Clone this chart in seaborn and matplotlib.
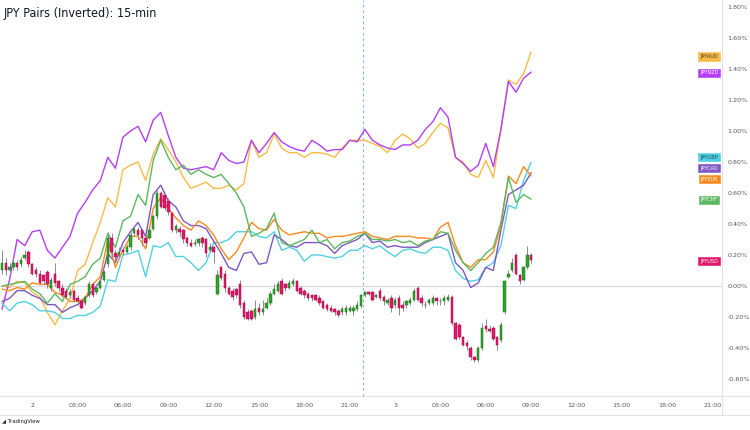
import numpy as np
import pandas as pd
import matplotlib
matplotlib.use("Agg")
import matplotlib.pyplot as plt
from matplotlib.lines import Line2D
import seaborn as sns

# --- datos (% de variacion) ---
pairs = ["JPYAUD", "JPYNZD", "JPYGBP", "JPYCAD", "JPYEUR", "JPYCHF"]
line_bars = np.arange(0, 141, 2)   # una lectura cada 2 velas de 15 min

jpyaud = [0.00, -0.01, 0.03, 0.02, -0.04, -0.07, -0.17, -0.25, -0.16, -0.08,
          0.10, 0.14, 0.28, 0.41, 0.57, 0.51, 0.75, 0.78, 0.80, 0.68,
          0.85, 0.95, 0.88, 0.80, 0.70, 0.63, 0.65, 0.67, 0.63, 0.63,
          0.65, 0.62, 0.66, 0.94, 0.83, 0.86, 0.98, 0.89, 0.86, 0.86,
          0.83, 0.86, 0.86, 0.85, 0.83, 0.89, 0.94, 0.94, 0.94, 0.92,
          0.90, 0.86, 0.94, 0.98, 0.95, 0.89, 0.92, 0.99, 1.05, 1.02,
          0.83, 0.80, 0.72, 0.70, 0.81, 0.70, 1.01, 1.33, 1.30, 1.37, 1.51]
jpynzd = [-0.15, 0.04, 0.30, 0.26, 0.35, 0.36, 0.23, 0.18, 0.25, 0.32,
          0.47, 0.54, 0.62, 0.68, 0.83, 0.76, 0.96, 1.00, 1.03, 0.93,
          1.07, 1.12, 0.97, 0.83, 0.76, 0.75, 0.76, 0.77, 0.75, 0.86,
          0.81, 0.79, 0.80, 0.94, 0.86, 0.92, 0.99, 0.93, 0.90, 0.88,
          0.87, 0.94, 0.91, 0.87, 0.88, 0.88, 0.94, 0.93, 1.01, 0.94,
          0.91, 0.89, 0.88, 0.91, 0.91, 0.94, 1.01, 1.06, 1.15, 1.09,
          0.83, 0.79, 0.74, 0.78, 0.92, 0.77, 1.01, 1.32, 1.25, 1.34, 1.38]
jpygbp = [-0.11, -0.16, -0.11, -0.10, -0.12, -0.16, -0.16, -0.17, -0.21, -0.21,
          -0.19, -0.19, -0.17, -0.13, 0.04, 0.03, 0.20, 0.21, 0.23, 0.06,
          0.26, 0.25, 0.28, 0.19, 0.19, 0.15, 0.10, 0.15, 0.28, 0.28,
          0.30, 0.35, 0.35, 0.35, 0.32, 0.31, 0.35, 0.23, 0.25, 0.23,
          0.16, 0.20, 0.20, 0.19, 0.18, 0.19, 0.23, 0.23, 0.26, 0.24,
          0.26, 0.22, 0.19, 0.23, 0.24, 0.22, 0.21, 0.25, 0.25, 0.23,
          0.10, 0.05, 0.03, 0.04, 0.12, 0.15, 0.26, 0.52, 0.50, 0.68, 0.80]
jpycad = [-0.10, -0.08, -0.03, -0.03, -0.06, -0.08, -0.12, -0.12, -0.17, -0.14,
          -0.12, -0.08, -0.03, 0.03, 0.21, 0.15, 0.28, 0.35, 0.41, 0.32,
          0.59, 0.65, 0.55, 0.51, 0.42, 0.39, 0.39, 0.37, 0.29, 0.21,
          0.12, 0.10, 0.21, 0.22, 0.14, 0.15, 0.33, 0.30, 0.26, 0.25,
          0.28, 0.28, 0.28, 0.26, 0.21, 0.26, 0.28, 0.30, 0.34, 0.28,
          0.29, 0.25, 0.26, 0.25, 0.25, 0.25, 0.28, 0.30, 0.32, 0.34,
          0.15, 0.10, -0.01, 0.02, 0.12, 0.10, 0.36, 0.59, 0.62, 0.65, 0.73]
jpyeur = [-0.02, -0.03, -0.01, -0.02, 0.02, 0.01, 0.01, -0.04, -0.06, -0.10,
          -0.10, -0.08, 0.01, 0.06, 0.30, 0.12, 0.23, 0.32, 0.32, 0.24,
          0.50, 0.57, 0.50, 0.44, 0.39, 0.36, 0.42, 0.39, 0.33, 0.24,
          0.17, 0.22, 0.31, 0.41, 0.37, 0.36, 0.43, 0.36, 0.33, 0.34,
          0.35, 0.34, 0.34, 0.31, 0.32, 0.32, 0.33, 0.34, 0.35, 0.32,
          0.31, 0.30, 0.32, 0.32, 0.32, 0.31, 0.31, 0.30, 0.38, 0.41,
          0.26, 0.15, 0.12, 0.17, 0.17, 0.22, 0.39, 0.71, 0.66, 0.77, 0.71]
jpychf = [0.00, 0.01, 0.02, 0.03, -0.02, -0.05, -0.11, -0.05, -0.10, 0.01,
          0.03, 0.06, 0.14, 0.18, 0.34, 0.25, 0.42, 0.45, 0.59, 0.52,
          0.81, 0.94, 0.83, 0.75, 0.78, 0.72, 0.75, 0.72, 0.70, 0.72,
          0.66, 0.60, 0.51, 0.32, 0.34, 0.37, 0.47, 0.28, 0.26, 0.28,
          0.30, 0.36, 0.28, 0.30, 0.24, 0.28, 0.29, 0.32, 0.34, 0.30,
          0.30, 0.29, 0.30, 0.28, 0.29, 0.26, 0.29, 0.30, 0.35, 0.34,
          0.23, 0.15, 0.10, 0.15, 0.21, 0.25, 0.41, 0.70, 0.54, 0.59, 0.56]

# JPYUSD en velas de 15 min
usd_open = [0.10, 0.15, 0.10, 0.12, 0.15, 0.14, 0.18, 0.22, 0.14, 0.10,
            0.08, 0.07, 0.09, -0.01, 0.08, 0.03, -0.01, -0.03, -0.06, -0.03,
            -0.08, -0.10, -0.11, -0.06, 0.01, -0.04, -0.01, 0.04, 0.14, 0.31,
            0.21, 0.20, 0.23, 0.22, 0.25, 0.34, 0.36, 0.36, 0.31, 0.31,
            0.37, 0.45, 0.60, 0.59, 0.55, 0.47, 0.36, 0.37, 0.36, 0.31,
            0.28, 0.27, 0.28, 0.31, 0.30, 0.23, 0.25, -0.05, 0.12, 0.08,
            -0.01, -0.03, -0.02, 0.01, -0.11, -0.17, -0.16, -0.20, -0.14, -0.17,
            -0.14, -0.11, -0.05, -0.03, 0.03, 0.01, -0.01, 0.01, 0.03, -0.01,
            -0.03, -0.05, -0.06, -0.06, -0.08, -0.10, -0.12, -0.14, -0.15, -0.16,
            -0.17, -0.17, -0.16, -0.16, -0.15, -0.13, -0.06, -0.04, -0.04, -0.07,
            -0.03, -0.07, -0.11, -0.08, -0.12, -0.08, -0.12, -0.12, -0.11, -0.09,
            -0.01, -0.08, -0.12, -0.11, -0.11, -0.08, -0.10, -0.10, -0.09, -0.07,
            -0.24, -0.25, -0.33, -0.37, -0.40, -0.46, -0.48, -0.40, -0.26, -0.28,
            -0.27, -0.33, -0.35, -0.17, 0.06, 0.10, 0.20, 0.07, 0.04, 0.12,
            0.20]
usd_close = [0.15, 0.10, 0.12, 0.15, 0.12, 0.17, 0.20, 0.14, 0.08, 0.08,
             0.02, 0.03, 0.01, 0.04, 0.02, -0.01, -0.06, -0.07, -0.04, -0.09,
             -0.10, -0.14, -0.07, 0.01, -0.06, -0.01, 0.03, 0.09, 0.31, 0.22,
             0.19, 0.22, 0.22, 0.25, 0.33, 0.37, 0.33, 0.31, 0.28, 0.36,
             0.45, 0.60, 0.51, 0.50, 0.48, 0.36, 0.39, 0.35, 0.30, 0.28,
             0.26, 0.28, 0.30, 0.28, 0.21, 0.25, 0.22, 0.07, 0.05, -0.01,
             -0.05, -0.07, -0.06, -0.12, -0.20, -0.21, -0.21, -0.15, -0.17, -0.15,
             -0.11, -0.05, -0.02, 0.01, -0.05, -0.01, 0.02, 0.03, -0.03, -0.05,
             -0.06, -0.08, -0.08, -0.09, -0.11, -0.14, -0.15, -0.16, -0.17, -0.19,
             -0.15, -0.14, -0.14, -0.14, -0.12, -0.06, -0.04, -0.05, -0.09, -0.06,
             -0.08, -0.10, -0.09, -0.14, -0.09, -0.14, -0.14, -0.10, -0.09, -0.03,
             -0.09, -0.11, -0.12, -0.09, -0.08, -0.10, -0.10, -0.08, -0.07, -0.24,
             -0.34, -0.33, -0.38, -0.39, -0.46, -0.48, -0.40, -0.27, -0.28, -0.29,
             -0.34, -0.38, -0.25, 0.03, 0.08, 0.15, 0.08, 0.03, 0.12, 0.20,
             0.17]
usd_high = [0.23, 0.18, 0.15, 0.18, 0.17, 0.19, 0.23, 0.23, 0.15, 0.12,
            0.10, 0.08, 0.10, 0.06, 0.15, 0.04, 0.01, -0.01, -0.02, -0.02,
            -0.06, -0.09, -0.06, 0.03, 0.02, 0.01, 0.05, 0.10, 0.35, 0.34,
            0.23, 0.25, 0.25, 0.27, 0.35, 0.39, 0.38, 0.37, 0.33, 0.38,
            0.46, 0.62, 0.61, 0.60, 0.57, 0.48, 0.40, 0.39, 0.37, 0.32,
            0.30, 0.30, 0.31, 0.32, 0.31, 0.28, 0.26, 0.10, 0.13, 0.10,
            0.00, -0.01, -0.01, 0.04, -0.09, -0.15, -0.15, -0.09, -0.11, -0.09,
            -0.08, -0.03, 0.01, 0.03, 0.05, 0.02, 0.04, 0.05, 0.04, 0.00,
            -0.02, -0.04, -0.05, -0.05, -0.06, -0.09, -0.11, -0.12, -0.14, -0.15,
            -0.13, -0.12, -0.12, -0.12, -0.10, -0.05, -0.03, -0.03, -0.03, -0.05,
            -0.01, -0.06, -0.08, -0.06, -0.07, -0.06, -0.10, -0.09, -0.07, -0.01,
            0.00, -0.06, -0.10, -0.08, -0.06, -0.07, -0.08, -0.06, -0.05, -0.06,
            -0.23, -0.24, -0.32, -0.35, -0.39, -0.45, -0.39, -0.24, -0.21, -0.25,
            -0.26, -0.32, -0.23, 0.04, 0.10, 0.18, 0.21, 0.08, 0.13, 0.26,
            0.21]
usd_low = [0.08, 0.07, 0.08, 0.10, 0.10, 0.12, 0.17, 0.12, 0.07, 0.06,
           0.01, 0.01, -0.01, -0.03, 0.00, -0.03, -0.07, -0.08, -0.08, -0.10,
           -0.12, -0.15, -0.12, -0.07, -0.07, -0.05, -0.02, 0.03, 0.12, 0.19,
           0.17, 0.18, 0.20, 0.21, 0.23, 0.32, 0.30, 0.26, 0.25, 0.30,
           0.36, 0.43, 0.50, 0.49, 0.46, 0.35, 0.34, 0.32, 0.28, 0.26,
           0.25, 0.26, 0.26, 0.25, 0.19, 0.22, 0.15, -0.06, 0.04, -0.04,
           -0.06, -0.09, -0.08, -0.14, -0.21, -0.22, -0.22, -0.21, -0.19, -0.19,
           -0.15, -0.12, -0.06, -0.04, -0.06, -0.03, -0.02, 0.00, -0.04, -0.06,
           -0.08, -0.09, -0.10, -0.10, -0.12, -0.15, -0.16, -0.17, -0.19, -0.20,
           -0.19, -0.19, -0.17, -0.19, -0.16, -0.14, -0.07, -0.06, -0.10, -0.08,
           -0.09, -0.12, -0.12, -0.17, -0.14, -0.19, -0.16, -0.14, -0.12, -0.10,
           -0.10, -0.13, -0.14, -0.12, -0.12, -0.12, -0.12, -0.12, -0.10, -0.25,
           -0.35, -0.34, -0.39, -0.41, -0.48, -0.49, -0.49, -0.41, -0.30, -0.30,
           -0.35, -0.41, -0.36, -0.18, 0.05, 0.09, 0.07, 0.01, 0.03, 0.11,
           0.15]

# etiquetas del eje de tiempo (posicion en velas)
time_ticks = [8, 20, 32, 44, 56, 68, 80, 92, 104, 116, 128, 140, 152, 164, 176, 188]
time_labels = ["2", "03:00", "06:00", "09:00", "12:00", "15:00", "18:00", "21:00",
               "3", "03:00", "06:00", "09:00", "12:00", "15:00", "18:00", "21:00"]
price_ticks = [-0.6, -0.4, -0.2, 0.0, 0.2, 0.4, 0.6, 0.8, 1.0, 1.2, 1.4, 1.6, 1.8]

# colores y posicion de las etiquetas de la derecha
colores = {"JPYAUD": "#f9bb45", "JPYNZD": "#b43ef6", "JPYGBP": "#4fd0e3",
           "JPYCAD": "#7e57c2", "JPYEUR": "#fb8a1c", "JPYCHF": "#5cb85f"}
tag_pos = {"JPYAUD": 1.48, "JPYNZD": 1.375, "JPYGBP": 0.832, "JPYCAD": 0.761,
           "JPYEUR": 0.69, "JPYCHF": 0.555, "JPYUSD": 0.161}
tag_txt = {"JPYAUD": "#3a3a3a", "JPYGBP": "#1e4a55"}
up_col, down_col = "#2ea52a", "#e3166a"

sns.set_style("white")
plt.rcParams["font.family"] = ["DejaVu Sans"]

fig = plt.figure(figsize=(7.5, 4.3), dpi=100)
ax = fig.add_axes([0, 34 / 430, 722 / 750, 396 / 430])

# lineas
df = pd.DataFrame({
    "bar": np.tile(line_bars, len(pairs)),
    "pair": np.repeat(pairs, len(line_bars)),
    "value": np.concatenate([jpyaud, jpynzd, jpygbp, jpycad, jpyeur, jpychf]),
})
sns.lineplot(data=df, x="bar", y="value", hue="pair", palette=colores,
             estimator=None, lw=1.0, legend=False, ax=ax, zorder=3)

# velas JPYUSD
o = np.array(usd_open)
c = np.array(usd_close)
bars = np.arange(len(o))
up = c >= o
ax.vlines(bars, usd_low, usd_high, color="#8c8c8c", lw=0.7, zorder=4)
ax.bar(bars[up], (c - o)[up], bottom=o[up], width=0.64, color=up_col,
       edgecolor="#1d6e1b", lw=0.35, zorder=5)
ax.bar(bars[~up], (c - o)[~up], bottom=o[~up], width=0.64, color=down_col,
       edgecolor="#9c0d48", lw=0.35, zorder=5)

ax.axhline(0, color="#d6d7dd", lw=0.8, zorder=1)
ax.axvline(95.5, color="#5f92f2", alpha=0.7, lw=0.8, ls=(0, (2.5, 2.5)), zorder=1)

ax.set_xlim(-0.53, 190.5)
ax.set_ylim(-0.7097, 1.845)
ax.set_xlabel("")
ax.set_ylabel("")
for s in ax.spines.values():
    s.set_visible(False)

ax.set_xticks(time_ticks)
ax.set_xticklabels(time_labels)
ax.yaxis.tick_right()
ax.set_yticks(price_ticks)
ax.set_yticklabels([f"{v:.2f}%" for v in price_ticks])
ax.tick_params(axis="y", length=0, pad=4, labelsize=4.6, labelcolor="#55585f")
ax.tick_params(axis="x", length=0, pad=5, labelsize=4.6, labelcolor="#55585f")
ax.grid(False)

# etiquetas de la derecha
for name, yv in tag_pos.items():
    fc = colores.get(name, down_col)
    ax.annotate(name, xy=(709 / 722, yv), xycoords=("axes fraction", "data"),
                ha="center", va="center", fontsize=3.6,
                color=tag_txt.get(name, "white"),
                bbox=dict(boxstyle="square,pad=0.35", fc=fc, ec=fc, lw=0.4),
                zorder=6)

# marco estilo TradingView
fig.add_artist(Line2D([0, 1], [34 / 430, 34 / 430], transform=fig.transFigure,
                      color="#e0e3eb", lw=0.8))
fig.add_artist(Line2D([0, 1], [15 / 430, 15 / 430], transform=fig.transFigure,
                      color="#e0e3eb", lw=0.8))
fig.add_artist(Line2D([722 / 750, 722 / 750], [15 / 430, 1], transform=fig.transFigure,
                      color="#e0e3eb", lw=0.8))

fig.text(4 / 750, 1 - 14 / 430, "JPY Pairs (Inverted): 15-min", fontsize=9,
         family=["Liberation Sans Narrow", "DejaVu Sans"], stretch="condensed",
         color="#131722", va="center", ha="left")
fig.text(2 / 750, 1 - 421 / 430, "\u25e2 TradingView", fontsize=3.8,
         color="#131722", va="center", ha="left")

fig.savefig("out.png", dpi=100)
